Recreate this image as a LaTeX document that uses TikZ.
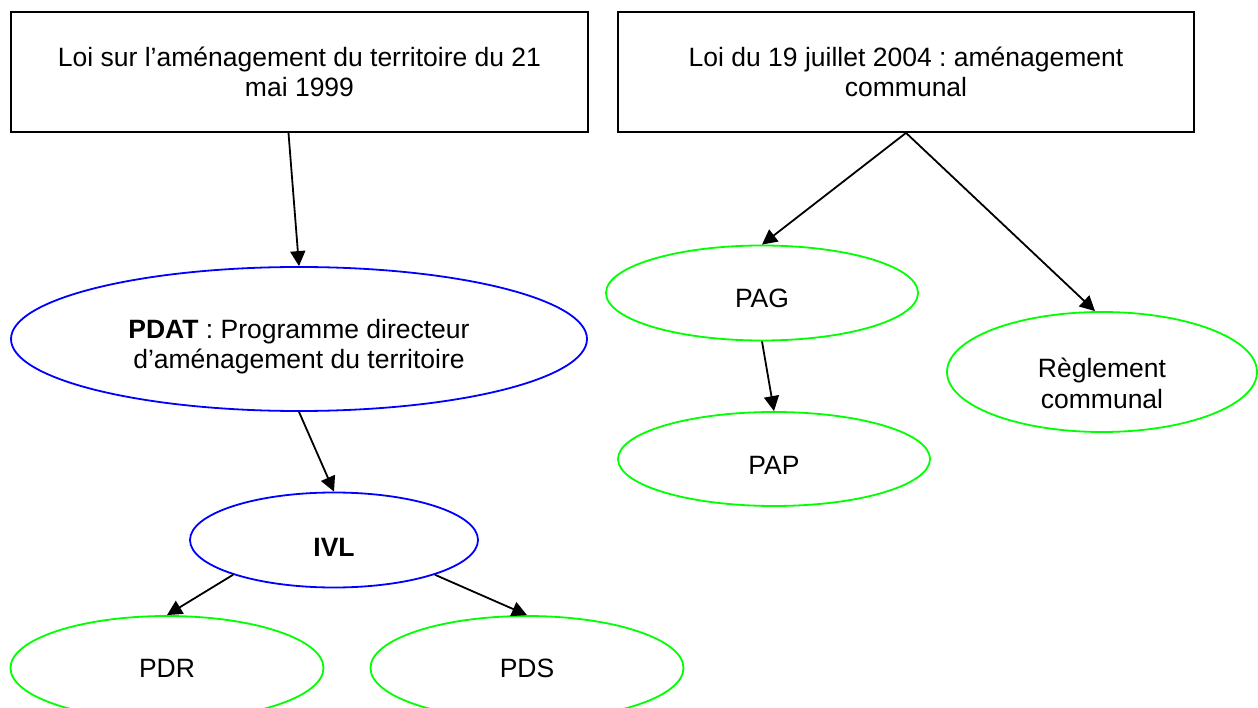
\documentclass[tikz,border=0pt]{standalone}
\usepackage{fontspec}
\setmainfont{Liberation Sans}
\usepackage{tikz}
\usetikzlibrary{arrows.meta,shapes.geometric}
\definecolor{amenBlue}{HTML}{0000FF}
\definecolor{amenGreen}{HTML}{00FF00}
\frenchspacing
\tikzset{
  amenLaw/.style={
    draw=black,
    line width=1.8pt,
    align=center,
    inner sep=0pt,
    minimum width=577pt,
    minimum height=120pt
  },
  amenPlan/.style={
    ellipse,
    line width=1.8pt,
    align=center,
    inner sep=0pt
  },
  amenState/.style={amenPlan, draw=amenBlue},
  amenLocal/.style={amenPlan, draw=amenGreen},
  amenArrow/.style={
    -{Triangle[length=15pt,width=15pt]},
    draw=black,
    line width=1.8pt
  }
}
\begin{document}
\begin{tikzpicture}[
  x=1pt, y=-1pt,
  font=\fontsize{26.5pt}{30.5pt}\selectfont
]
\clip (0,0) rectangle (1258,708);
% lois
\node[amenLaw] (loiAT) at (299.5,72)
  {Loi sur l’aménagement du territoire du 21\\mai 1999};
\node[amenLaw, minimum width=576pt] (loiAC) at (906,72)
  {Loi du 19 juillet 2004 : aménagement\\communal};
% plans du territoire
\node[amenState, minimum width=576pt, minimum height=144pt, text height=65pt] (pdat) at (299,339)
  {\textbf{PDAT} : Programme directeur\\d’aménagement du territoire};
\node[amenState, minimum width=288pt, minimum height=95pt, text height=33pt] (ivl) at (334,540)
  {\textbf{IVL}};
\node[amenLocal, minimum width=313pt, minimum height=104pt] (pdr) at (167,668) {PDR};
\node[amenLocal, minimum width=313pt, minimum height=104pt] (pds) at (527,668) {PDS};
% plans communaux
\node[amenLocal, minimum width=312pt, minimum height=95pt, text height=29pt] (pag) at (762,293) {PAG};
\node[amenLocal, minimum width=312pt, minimum height=94pt, text height=31pt] (pap) at (774,459) {PAP};
\node[amenLocal, minimum width=310pt, minimum height=120pt, text height=73pt] (regl) at (1102,372)
  {Règlement\\communal};

\draw[amenArrow] ([xshift=-11pt]loiAT.south) -- (pdat.north);
\draw[amenArrow] (pdat.south) -- (ivl.north);
\draw[amenArrow] (ivl.199) -- (pdr.north);
\draw[amenArrow] (ivl.-19) -- (pds.north);
\draw[amenArrow] (loiAC.south) -- (pag.north);
\draw[amenArrow] (loiAC.south) -- ([xshift=-7pt]regl.north);
\draw[amenArrow] (pag.south) -- (pap.north);
\end{tikzpicture}
\end{document}
